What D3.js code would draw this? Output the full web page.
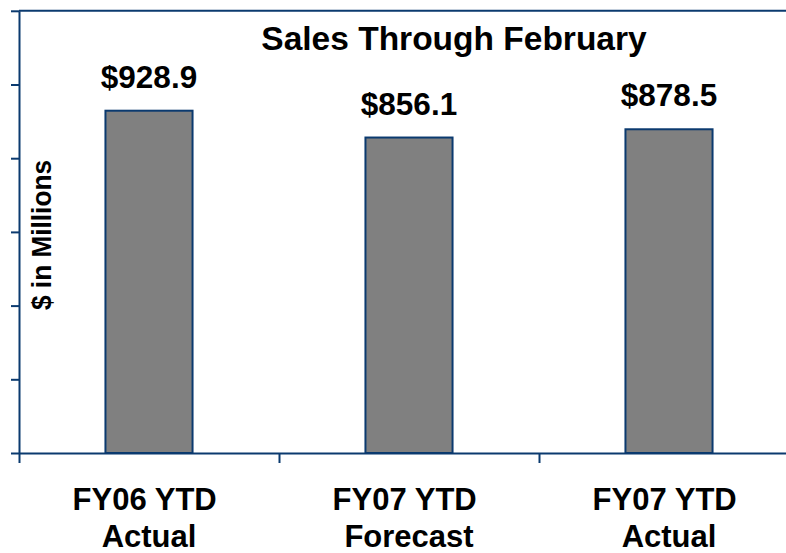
<!DOCTYPE html>
<html><head><meta charset="utf-8">
<script src="https://cdn.jsdelivr.net/npm/d3@7"></script>
<style>
html,body{margin:0;padding:0;background:#fff;}
text{font-family:"Liberation Sans",Arial,sans-serif;font-weight:bold;fill:#000;}
</style></head>
<body><svg id="c" width="786" height="553"></svg>
<script>
const categories = ["FY06 YTD|Actual", "FY07 YTD|Forecast", "FY07 YTD|Actual"];
const values = [928.9, 856.1, 878.5];
const valueLabels = ["$928.9", "$856.1", "$878.5"];
const yTicks = [0, 200, 400, 600, 800, 1000, 1200];
const titleText = "Sales Through February";
const yTitle = "$ in Millions";

const navy = "#0b3a6f";
const svg = d3.select("#c");
const m = {left: 19, right: 799, top: 10.8, bottom: 453};

const x = d3.scaleBand().domain(categories).range([m.left, m.right])
  .paddingInner(0.665).paddingOuter(0.3325);
const y = d3.scaleLinear().domain([0, 1200]).range([m.bottom, m.top]);
const xb = d3.scaleLinear().domain([0, categories.length]).range([m.left, m.right]);

// plot border top
svg.append("line").attr("x1", m.left).attr("x2", m.right)
  .attr("y1", y(1200)).attr("y2", y(1200))
  .attr("stroke", navy).attr("stroke-width", 2);

// bars
svg.selectAll("rect.bar").data(values).join("rect").attr("class","bar")
  .attr("x", (d,i) => x(categories[i]))
  .attr("width", x.bandwidth())
  .attr("y", d => y(d))
  .attr("height", d => y(0) - y(d))
  .attr("fill", "#808080").attr("stroke", navy).attr("stroke-width", 2);

// y axis
const ya = svg.append("g").attr("transform", `translate(${m.left},0)`)
  .call(d3.axisLeft(y).tickValues(yTicks).tickSize(8).tickSizeOuter(0).tickFormat(""));
ya.selectAll("path,line").attr("stroke", navy).attr("stroke-width", 2);

// x axis
const xa = svg.append("g").attr("transform", `translate(0,${m.bottom})`)
  .call(d3.axisBottom(xb).tickValues(d3.range(categories.length + 1)).tickSize(10).tickSizeOuter(0).tickFormat(""));
xa.selectAll("path,line").attr("stroke", navy).attr("stroke-width", 2);

// value labels
svg.selectAll("text.val").data(values).join("text").attr("class","val")
  .attr("x", (d,i) => x(categories[i]) + x.bandwidth()/2)
  .attr("y", d => y(d) - 23)
  .attr("text-anchor", "middle").style("font-size", "31.5px")
  .text((d,i) => valueLabels[i]);

// category labels
categories.forEach(c => {
  const lines = c.split("|");
  const cx = x(c) + x.bandwidth()/2;
  lines.forEach((t, j) => {
    svg.append("text").attr("x", cx).attr("y", 510 + j*37)
      .attr("text-anchor", "middle").style("font-size", "31px")
      .style("white-space", "pre")
      .text(j === 0 ? t + " " : t);
  });
});

// title
svg.append("text").attr("x", 454).attr("y", 50).attr("text-anchor", "middle")
  .style("font-size", "33.5px").text(titleText);

// y title
svg.append("text").attr("transform", "translate(51,235) rotate(-90)")
  .attr("text-anchor", "middle").style("font-size", "28px")
  .attr("textLength", 150).attr("lengthAdjust", "spacingAndGlyphs").text(yTitle);
</script></body></html>
